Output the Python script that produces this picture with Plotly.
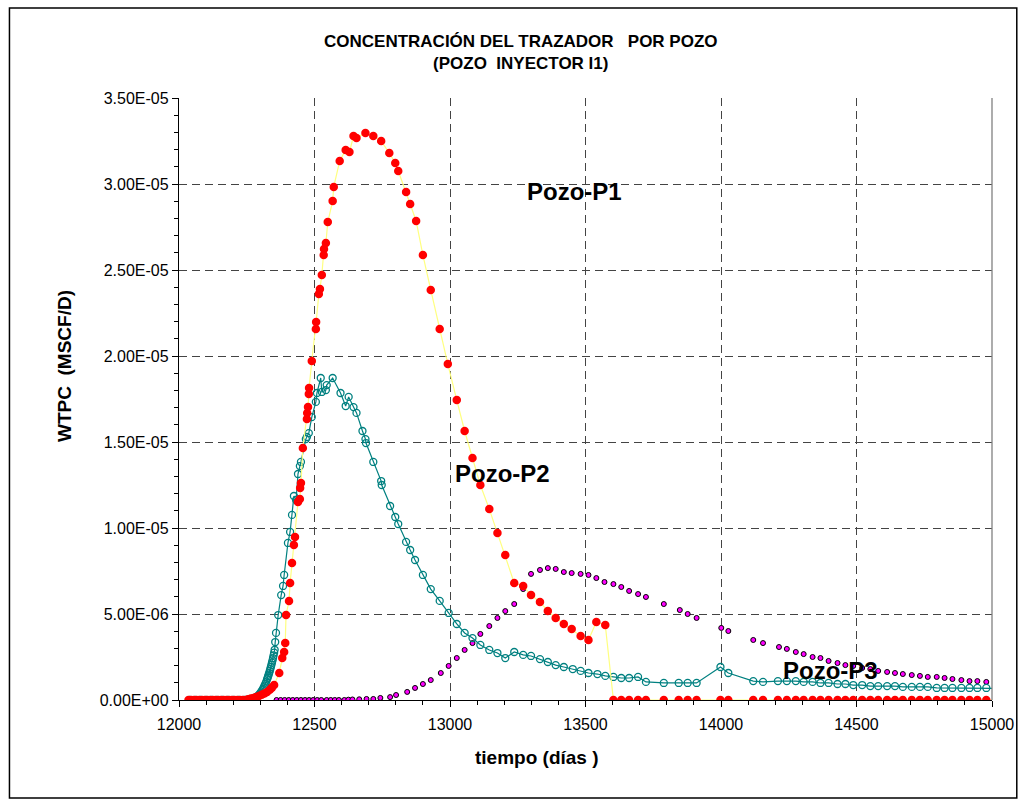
import plotly.graph_objects as go

# ---------------- data ----------------
p1_x = [12035, 12045, 12055, 12065, 12075, 12085, 12095, 12105, 12115, 12125, 12135,
        12145, 12155, 12165, 12175, 12185, 12195, 12205, 12215, 12225, 12235, 12245,
        12255, 12265, 12275, 12285, 12295, 12305, 12315, 12325, 12335, 12343,
        12351, 12370, 12381, 12388, 12392, 12395, 12406, 12410, 12417, 12424, 12428,
        12439, 12446, 12447, 12450, 12457, 12472, 12473, 12476, 12479, 12480, 12490,
        12505, 12506, 12516, 12520, 12527, 12534, 12535, 12542, 12549, 12567, 12571,
        12593, 12615, 12629, 12644, 12655, 12688, 12717, 12746, 12776, 12798, 12809,
        12838, 12853, 12875, 12900, 12929, 12962, 12992, 13025, 13054, 13083, 13112,
        13145, 13175, 13204, 13237, 13270, 13299, 13332, 13361, 13390, 13420, 13449,
        13482, 13511, 13540, 13573, 13603,
        13632, 13661, 13694, 13723, 13789, 13844, 13877, 13910, 13998, 14027, 14119,
        14155, 14210, 14243, 14276, 14305, 14338, 14367, 14397, 14430, 14459, 14488,
        14521, 14551, 14580, 14613, 14642, 14671, 14704, 14734, 14763, 14796, 14825,
        14854, 14887, 14917, 14946, 14979, 15022]
p1_y = [0, 0, 0, 0, 0, 0, 0, 0, 0, 0, 0,
        0, 0, 0, 0, 0, 0, 0, 0, 0, 0, 0,
        5e-8, 8e-8, 1.2e-7, 1.7e-7, 2.3e-7, 3.0e-7, 3.8e-7, 4.7e-7, 6.0e-7, 7.2e-7,
        8.7e-7, 1.57e-6, 2.44e-6, 2.79e-6, 3.31e-6, 4.94e-6, 5.76e-6, 6.80e-6, 7.97e-6, 9.01e-6, 9.48e-6,
        1.151e-5, 1.169e-5, 1.233e-5, 1.262e-5, 1.465e-5, 1.634e-5, 1.669e-5, 1.703e-5, 1.779e-5, 1.814e-5, 1.971e-5,
        2.157e-5, 2.198e-5, 2.360e-5, 2.390e-5, 2.471e-5, 2.587e-5, 2.622e-5, 2.657e-5, 2.779e-5, 2.901e-5, 2.983e-5,
        3.134e-5, 3.198e-5, 3.186e-5, 3.279e-5, 3.267e-5, 3.297e-5, 3.279e-5, 3.250e-5, 3.180e-5, 3.122e-5, 3.076e-5,
        2.954e-5, 2.884e-5, 2.785e-5, 2.587e-5, 2.384e-5, 2.157e-5, 1.953e-5, 1.744e-5, 1.564e-5, 1.407e-5, 1.250e-5,
        1.110e-5, 9.71e-6, 8.43e-6, 6.80e-6, 6.63e-6, 6.10e-6, 5.70e-6, 5.17e-6, 4.77e-6, 4.42e-6, 4.13e-6,
        3.72e-6, 3.49e-6, 4.53e-6, 4.36e-6, 0,
        0, 0, 0, 0, 0, 0, 0, 0, 0, 0, 0,
        0, 0, 0, 0, 0, 0, 0, 0, 0, 0, 0,
        0, 0, 0, 0, 0, 0, 0, 0, 0, 0, 0,
        0, 0, 0, 0, 0, 0]

p2_x = [12040, 12060, 12080, 12100, 12120, 12140, 12160, 12180, 12200, 12220, 12240,
        12248, 12252, 12256, 12260, 12264, 12268, 12272, 12276, 12280, 12284, 12288,
        12292, 12295, 12298, 12301, 12304, 12307, 12310, 12313, 12316, 12319, 12322,
        12325, 12327, 12329, 12331, 12333, 12335, 12337, 12339, 12341, 12343, 12345,
        12347, 12349, 12351, 12353, 12355,
        12358, 12366, 12377, 12384, 12388, 12402, 12410, 12417, 12424, 12432, 12439,
        12446, 12450, 12468, 12472, 12479, 12490, 12505, 12509, 12523, 12527, 12542,
        12545, 12567, 12596, 12615, 12626, 12644, 12655, 12677, 12688, 12690, 12717,
        12746, 12748, 12779, 12798, 12809, 12838, 12853, 12871, 12900, 12929, 12962,
        12995, 13025, 13054, 13083, 13112, 13145, 13175, 13204, 13237, 13270, 13299,
        13332, 13361, 13390, 13420, 13453, 13482, 13511, 13544, 13573, 13603, 13632,
        13661, 13694, 13723, 13789, 13844, 13877, 13910, 13998, 14027, 14119, 14155,
        14210, 14243, 14276, 14305, 14338, 14367, 14397, 14430, 14459, 14488, 14521,
        14551, 14580, 14613, 14642, 14671, 14704, 14734, 14763, 14796, 14825, 14854,
        14887, 14917, 14946, 14979, 15022]
p2_y = [0, 0, 0, 0, 0, 0, 0, 0, 0, 0, 0,
        0, 0, 1e-8, 2e-8, 3e-8, 5e-8, 7e-8, 1.0e-7, 1.3e-7, 1.6e-7, 2.0e-7,
        2.5e-7, 3.0e-7, 3.6e-7, 4.2e-7, 4.9e-7, 5.7e-7, 6.5e-7, 7.4e-7, 8.4e-7, 9.5e-7, 1.07e-6,
        1.20e-6, 1.29e-6, 1.38e-6, 1.48e-6, 1.58e-6, 1.69e-6, 1.80e-6, 1.92e-6, 2.04e-6, 2.17e-6, 2.30e-6,
        2.44e-6, 2.59e-6, 2.75e-6, 2.92e-6, 3.37e-6,
        3.90e-6, 4.94e-6, 6.10e-6, 6.63e-6, 7.27e-6, 9.13e-6, 9.77e-6, 1.076e-5, 1.186e-5, 1.163e-5, 1.314e-5,
        1.360e-5, 1.384e-5, 1.517e-5, 1.529e-5, 1.552e-5, 1.645e-5, 1.733e-5, 1.785e-5, 1.872e-5, 1.791e-5, 1.802e-5,
        1.831e-5, 1.872e-5, 1.785e-5, 1.709e-5, 1.762e-5, 1.703e-5, 1.669e-5, 1.564e-5, 1.517e-5, 1.494e-5, 1.384e-5,
        1.273e-5, 1.250e-5, 1.128e-5, 1.064e-5, 1.023e-5, 9.19e-6, 8.72e-6, 8.14e-6, 7.27e-6, 6.45e-6, 5.76e-6,
        5.06e-6, 4.42e-6, 3.90e-6, 3.60e-6, 3.20e-6, 2.91e-6, 2.73e-6, 2.44e-6, 2.79e-6, 2.62e-6, 2.56e-6,
        2.38e-6, 2.21e-6, 2.03e-6, 1.92e-6, 1.80e-6, 1.69e-6, 1.57e-6, 1.51e-6, 1.40e-6, 1.34e-6, 1.28e-6,
        1.28e-6, 1.34e-6, 1.05e-6, 9.9e-7, 9.9e-7, 9.9e-7, 9.9e-7, 1.92e-6, 1.57e-6, 1.10e-6, 1.05e-6,
        1.10e-6, 1.10e-6, 1.10e-6, 1.05e-6, 1.05e-6, 9.9e-7, 9.9e-7, 9.3e-7, 9.3e-7, 8.7e-7, 8.7e-7,
        8.1e-7, 8.1e-7, 8.1e-7, 8.1e-7, 7.6e-7, 7.6e-7, 7.6e-7, 7.6e-7, 7.0e-7, 7.0e-7, 7.0e-7,
        7.0e-7, 7.0e-7, 7.0e-7, 7.0e-7, 6.7e-7]

p3_x = [12360, 12375, 12390, 12405, 12420, 12435, 12450, 12465, 12480, 12495, 12510,
        12525, 12545, 12560, 12575, 12590, 12610, 12625, 12640, 12665,
        12692, 12717, 12743, 12779, 12801, 12842, 12871, 12900, 12929, 12966, 12995,
        13025, 13054, 13083, 13112, 13145, 13175, 13204, 13237, 13270, 13299, 13332,
        13361, 13390, 13420, 13449, 13482, 13511, 13540, 13570, 13603, 13632, 13661,
        13694, 13723, 13789, 13848, 13877, 13910, 14001, 14027, 14119, 14155, 14214,
        14243, 14276, 14305, 14338, 14367, 14397, 14430, 14459, 14488, 14521, 14551,
        14580, 14613, 14642, 14671, 14704, 14734, 14763, 14796, 14825, 14854, 14887,
        14917, 14946, 14979]
p3_y = [0, 0, 0, 0, 0, 0, 0, 0, 0, 0, 0,
        0, 0, 0, 0, 0, 0, 2e-8, 3e-8, 4e-8,
        6e-8, 6e-8, 1.2e-7, 1.7e-7, 2.9e-7, 4.7e-7, 7.0e-7, 9.3e-7, 1.16e-6, 1.57e-6, 1.98e-6,
        2.44e-6, 2.91e-6, 3.31e-6, 3.84e-6, 4.30e-6, 4.77e-6, 5.17e-6, 5.58e-6, 6.45e-6, 7.33e-6, 7.56e-6,
        7.67e-6, 7.62e-6, 7.44e-6, 7.38e-6, 7.33e-6, 7.27e-6, 7.09e-6, 6.86e-6, 6.74e-6, 6.57e-6, 6.34e-6,
        6.16e-6, 5.99e-6, 5.58e-6, 5.23e-6, 5.00e-6, 4.77e-6, 4.19e-6, 4.01e-6, 3.49e-6, 3.31e-6, 3.08e-6,
        2.97e-6, 2.79e-6, 2.67e-6, 2.50e-6, 2.44e-6, 2.27e-6, 2.15e-6, 2.03e-6, 1.98e-6, 1.86e-6, 1.80e-6,
        1.69e-6, 1.63e-6, 1.57e-6, 1.51e-6, 1.45e-6, 1.40e-6, 1.34e-6, 1.34e-6, 1.28e-6, 1.22e-6, 1.16e-6,
        1.10e-6, 1.10e-6, 1.05e-6]

x_ticks = [12000, 12500, 13000, 13500, 14000, 14500, 15000]
y_ticks = [0, 5e-6, 1e-5, 1.5e-5, 2e-5, 2.5e-5, 3e-5, 3.5e-5]
y_tick_text = ["0.00E+00", "5.00E-06", "1.00E-05", "1.50E-05", "2.00E-05",
               "2.50E-05", "3.00E-05", "3.50E-05"]

labels = ["Pozo-P1", "Pozo-P2", "Pozo-P3"]
label_x = [13460, 13193, 14404]
label_y = [2.954e-5, 1.314e-5, 1.74e-6]

title_text = "<b>CONCENTRACIÓN DEL TRAZADOR\u00a0\u00a0\u00a0POR POZO<br>(POZO\u00a0\u00a0INYECTOR I1)</b>"
x_title = "<b>tiempo (días )</b>"
y_title = "<b>WTPC\u00a0\u00a0(MSCF/D)</b>"

FONT = "Arial, 'Liberation Sans', Helvetica, sans-serif"

# ---------------- figure ----------------
fig = go.Figure()
fig.add_trace(go.Scatter(
    x=p3_x, y=p3_y, mode="markers", name="Pozo-P3",
    marker=dict(color="#FF00FF", size=5, line=dict(color="black", width=1))))
fig.add_trace(go.Scatter(
    x=p2_x, y=p2_y, mode="lines+markers", name="Pozo-P2",
    line=dict(color="#008080", width=1.2),
    marker=dict(symbol="circle-open", color="#008080", size=7, line=dict(width=1.3))))
fig.add_trace(go.Scatter(
    x=p1_x, y=p1_y, mode="lines+markers", name="Pozo-P1",
    line=dict(color="#FFFF80", width=1.2),
    marker=dict(color="#FF0000", size=8.5, line=dict(width=0))))

L, R, T, B = 179, 27, 98, 101
W, H = 1026, 801
pw, ph = W - L - R, H - T - B


def px_to_paper_x(px):
    return (px - L) / pw


def px_to_paper_y(py):
    return (H - B - py) / ph


grid = dict(showgrid=True, gridcolor="#444444", gridwidth=1, griddash="8px,5px")
x_range = [12000, 15000]
y_range = [0, 3.5e-5]

fig.update_layout(
    width=W, height=H,
    margin=dict(l=L, r=R, t=T, b=B, pad=0),
    paper_bgcolor="white", plot_bgcolor="white",
    showlegend=False,
    font=dict(family=FONT, color="black"),
    xaxis=dict(
        range=x_range, tickvals=x_ticks, ticktext=[str(v) for v in x_ticks],
        showline=True, linecolor="black", linewidth=1.3,
        ticks="outside", ticklen=6, tickcolor="black", tickwidth=1,
        minor=dict(ticks="outside", ticklen=4, dtick=100, tickcolor="black", showgrid=False),
        tickfont=dict(size=16, family=FONT), zeroline=False,
        ticklabelstandoff=4, **grid),
    yaxis=dict(
        range=y_range, tickvals=y_ticks, ticktext=y_tick_text,
        showline=True, linecolor="black", linewidth=1.3,
        ticks="outside", ticklen=6, tickcolor="black", tickwidth=1,
        minor=dict(ticks="outside", ticklen=4, dtick=1e-6, tickcolor="black", showgrid=False),
        tickfont=dict(size=16, family=FONT), zeroline=False,
        ticklabelstandoff=0, **grid),
    # overlay axes giving the inner half of the crossing major ticks
    xaxis2=dict(overlaying="x", anchor="y", side="bottom", range=x_range,
                tickvals=x_ticks, showticklabels=False, ticks="inside", ticklen=5,
                tickcolor="black", tickwidth=1, showgrid=False, zeroline=False, showline=False),
    yaxis2=dict(overlaying="y", anchor="x", side="left", range=y_range,
                tickvals=y_ticks, showticklabels=False, ticks="inside", ticklen=5,
                tickcolor="black", tickwidth=1, showgrid=False, zeroline=False, showline=False),
)

annotations = []
for t, xv, yv in zip(labels, label_x, label_y):
    annotations.append(dict(x=xv, y=yv, xref="x", yref="y", text="<b>" + t + "</b>",
                            showarrow=False, font=dict(size=24, family=FONT, color="black"),
                            xanchor="center", yanchor="middle"))
annotations.append(dict(x=px_to_paper_x(524), y=px_to_paper_y(52), xref="paper", yref="paper",
                        text=title_text, showarrow=False, align="center",
                        font=dict(size=17, family=FONT, color="black"),
                        xanchor="center", yanchor="middle"))
annotations.append(dict(x=px_to_paper_x(540), y=px_to_paper_y(757), xref="paper", yref="paper",
                        text=x_title, showarrow=False,
                        font=dict(size=19, family=FONT, color="black"),
                        xanchor="center", yanchor="middle"))
annotations.append(dict(x=px_to_paper_x(63), y=px_to_paper_y(366), xref="paper", yref="paper",
                        text=y_title, showarrow=False, textangle=-90,
                        font=dict(size=19, family=FONT, color="black"),
                        xanchor="center", yanchor="middle"))
fig.update_layout(annotations=annotations)

# right edge of the plot area (solid grey) and outer chart frame
fig.add_shape(type="line", xref="paper", yref="paper", x0=1, x1=1, y0=0, y1=1,
              line=dict(color="#808080", width=1.3))
fig.add_shape(type="rect", xref="paper", yref="paper",
              x0=px_to_paper_x(8), x1=px_to_paper_x(1024),
              y0=px_to_paper_y(798), y1=px_to_paper_y(8),
              line=dict(color="black", width=1.5), fillcolor="rgba(0,0,0,0)", layer="below")

fig.write_html("out.html")
